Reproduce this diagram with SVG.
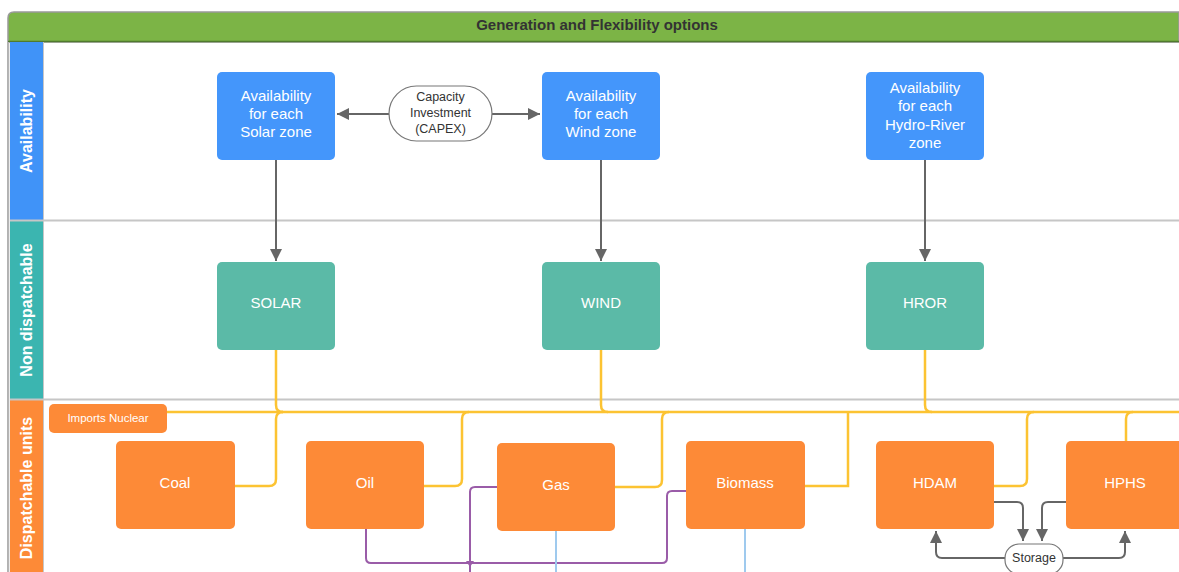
<svg xmlns="http://www.w3.org/2000/svg" width="1179" height="572" viewBox="0 0 1179 572">
<defs>
<style>
text{font-family:"Liberation Sans",Arial,sans-serif;}
.lane{font-size:16px;font-weight:bold;fill:#fff;text-anchor:middle;}
.nt{font-size:15px;fill:#fff;text-anchor:middle;}
.blue{fill:#4496fb;}
.teal{fill:#5bbaa7;}
.orng{fill:#fd8a37;}
.y{fill:none;stroke:#fcc332;stroke-width:2.5;}
.p{fill:none;stroke:#9a5ca8;stroke-width:2;}
.lb{fill:none;stroke:#9fcaee;stroke-width:2;}
.g{fill:none;stroke:#666;stroke-width:2;}
.sep{stroke:#c6c6c6;stroke-width:2;}
</style>
<marker id="ah" viewBox="0 0 10 10" refX="10" refY="5" markerWidth="12" markerHeight="12" markerUnits="userSpaceOnUse" orient="auto">
<path d="M0,0 L10,5 L0,10 z" fill="#666"/>
</marker>
</defs>
<rect width="1179" height="572" fill="#fff"/>
<g id="pool">
<path d="M8,572 V18 Q8,12 14,12 H1179 V42 H8" fill="#7cb446" stroke="#999" stroke-width="1.5"/>
<line x1="8" y1="41.5" x2="1179" y2="41.5" stroke="#4f7a2e" stroke-width="1.5"/>
<text x="597" y="30" font-size="15" font-weight="bold" fill="#333" text-anchor="middle">Generation and Flexibility options</text>
<line x1="8.5" y1="42" x2="8.5" y2="572" stroke="#b5b5b5" stroke-width="1.5"/>
<rect x="10" y="42" width="33" height="178" fill="#4093f8"/>
<rect x="10" y="221" width="33" height="178" fill="#3bb5b0"/>
<rect x="10" y="400" width="33" height="172" fill="#fd8a37"/>
<line class="sep" x1="10" y1="220.5" x2="1179" y2="220.5"/>
<line class="sep" x1="10" y1="399.5" x2="1179" y2="399.5"/>
<line x1="43.5" y1="42" x2="43.5" y2="572" stroke="#c6c6c6" stroke-width="1"/>
<text class="lane" transform="translate(31.5,131) rotate(-90)">Availability</text>
<text class="lane" transform="translate(31.5,310) rotate(-90)">Non dispatchable</text>
<text class="lane" transform="translate(31.5,488) rotate(-90)">Dispatchable units</text>
</g>
<g id="connectors">
<line class="g" x1="389" y1="114" x2="337" y2="114" marker-end="url(#ah)"/>
<line class="g" x1="492" y1="114" x2="540" y2="114" marker-end="url(#ah)"/>
<line class="g" x1="276" y1="160" x2="276" y2="261" marker-end="url(#ah)"/>
<line class="g" x1="601" y1="160" x2="601" y2="261" marker-end="url(#ah)"/>
<line class="g" x1="925" y1="160" x2="925" y2="261" marker-end="url(#ah)"/>
<path class="y" d="M167,412 H1179"/>
<path class="y" d="M276,350 V405 Q276,412 283,412"/>
<path class="y" d="M283,412 Q276,412 276,419 V479 Q276,486 269,486 H235"/>
<path class="y" d="M424,486 H455 Q462,486 462,479 V419 Q462,412 469,412"/>
<path class="y" d="M615,487 H655 Q662,487 662,480 V419 Q662,412 669,412"/>
<path class="y" d="M601,350 V405 Q601,412 608,412"/>
<path class="y" d="M805,486 H848 V412"/>
<path class="y" d="M925,350 V405 Q925,412 932,412"/>
<path class="y" d="M994,486 H1020 Q1027,486 1027,479 V419 Q1027,412 1034,412"/>
<path class="y" d="M1126,441 V419 Q1126,412 1133,412"/>
<path class="p" d="M366,529 V558 Q366,563 371,563 H662 Q667,563 667,558 V496 Q667,491 672,491 H686"/>
<path class="p" d="M497,487 H475 Q470,487 470,492 V572"/>
<path d="M466,561 L470,567 L474,561 z" fill="#9a5ca8"/>
<line class="lb" x1="556" y1="531" x2="556" y2="572"/>
<line class="lb" x1="745" y1="529" x2="745" y2="572"/>
<path class="g" d="M994,502 H1017 Q1023,502 1023,508 V541" marker-end="url(#ah)"/>
<path class="g" d="M1066,502 H1048 Q1042,502 1042,508 V541" marker-end="url(#ah)"/>
<path class="g" d="M1005,558 H942 Q936,558 936,552 V531" marker-end="url(#ah)"/>
<path class="g" d="M1063,558 H1119 Q1125,558 1125,552 V531" marker-end="url(#ah)"/>
</g>
<g id="capex">
<rect x="389" y="86" width="103" height="55" rx="27.5" fill="#fff" stroke="#777" stroke-width="1.2"/>
<text x="440.5" y="101" font-size="12.5" fill="#333" text-anchor="middle">Capacity</text>
<text x="440.5" y="117" font-size="12.5" fill="#333" text-anchor="middle">Investment</text>
<text x="440.5" y="133" font-size="12.5" fill="#333" text-anchor="middle">(CAPEX)</text>
</g>
<g id="avail-solar"><rect class="blue" x="217" y="72" width="118" height="88" rx="5"/>
<text class="nt" x="276" y="101">Availability</text><text class="nt" x="276" y="119">for each</text><text class="nt" x="276" y="137">Solar zone</text></g>
<g id="avail-wind"><rect class="blue" x="542" y="72" width="118" height="88" rx="5"/>
<text class="nt" x="601" y="101">Availability</text><text class="nt" x="601" y="119">for each</text><text class="nt" x="601" y="137">Wind zone</text></g>
<g id="avail-hydro"><rect class="blue" x="866" y="72" width="118" height="88" rx="5"/>
<text class="nt" x="925" y="93">Availability</text><text class="nt" x="925" y="111">for each</text><text class="nt" x="925" y="130">Hydro-River</text><text class="nt" x="925" y="148">zone</text></g>
<g id="solar"><rect class="teal" x="217" y="262" width="118" height="88" rx="5"/><text class="nt" x="276" y="308">SOLAR</text></g>
<g id="wind"><rect class="teal" x="542" y="262" width="118" height="88" rx="5"/><text class="nt" x="601" y="308">WIND</text></g>
<g id="hror"><rect class="teal" x="866" y="262" width="118" height="88" rx="5"/><text class="nt" x="925" y="308">HROR</text></g>
<g id="imports"><rect class="orng" x="49" y="404" width="118" height="29" rx="5"/><text x="108" y="422" font-size="11.5" fill="#fff" text-anchor="middle">Imports Nuclear</text></g>
<g id="coal"><rect class="orng" x="116" y="441" width="119" height="88" rx="5"/><text class="nt" x="175" y="488">Coal</text></g>
<g id="oil"><rect class="orng" x="306" y="441" width="118" height="88" rx="5"/><text class="nt" x="365" y="488">Oil</text></g>
<g id="gas"><rect class="orng" x="497" y="443" width="118" height="88" rx="5"/><text class="nt" x="556" y="490">Gas</text></g>
<g id="biomass"><rect class="orng" x="686" y="441" width="119" height="88" rx="5"/><text class="nt" x="745" y="488">Biomass</text></g>
<g id="hdam"><rect class="orng" x="876" y="441" width="118" height="88" rx="5"/><text class="nt" x="935" y="488">HDAM</text></g>
<g id="hphs"><rect class="orng" x="1066" y="441" width="125" height="88" rx="5"/><text class="nt" x="1125" y="488">HPHS</text></g>
<g id="storage"><rect x="1005" y="544" width="58" height="30" rx="14" fill="#fff" stroke="#777" stroke-width="1.2"/><text x="1034" y="562" font-size="12.5" fill="#333" text-anchor="middle">Storage</text></g>
</svg>
